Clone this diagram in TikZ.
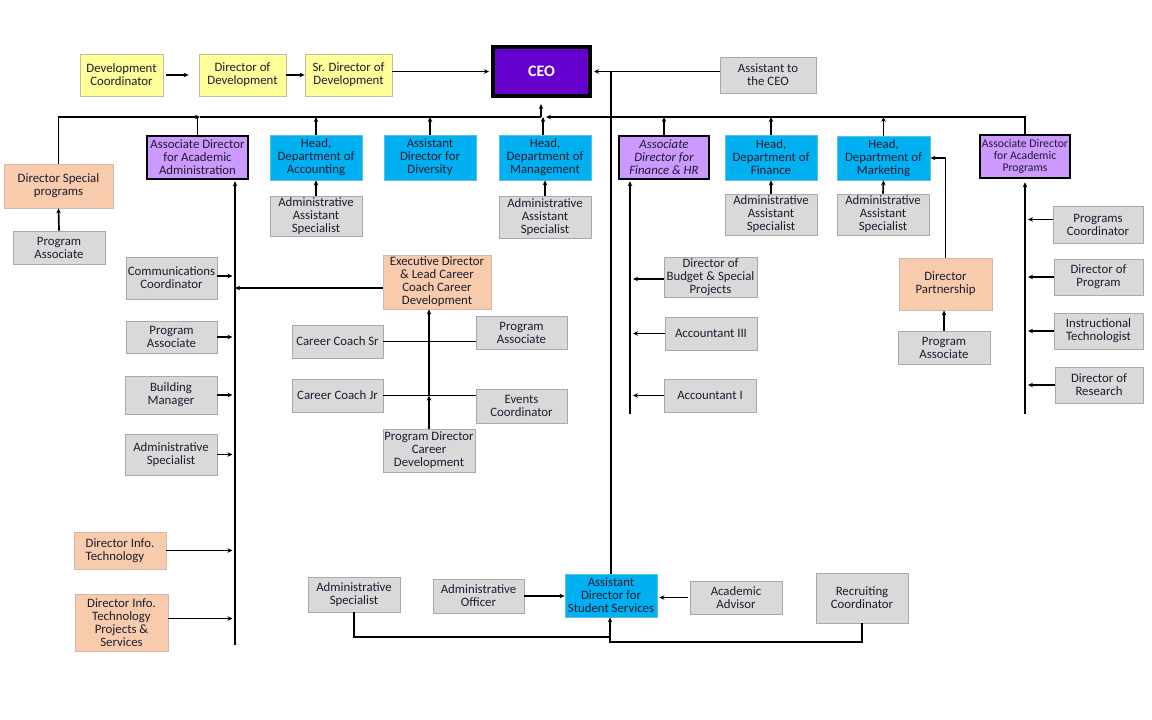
\documentclass[tikz,border=0pt]{standalone}
\usepackage{fontspec}
\setmainfont{Carlito}
\usetikzlibrary{arrows.meta}
\definecolor{txt}{HTML}{1C1C30}
\definecolor{grayF}{HTML}{D9D9D9}
\definecolor{grayD}{HTML}{A9A9A9}
\definecolor{yelF}{HTML}{FFFF99}
\definecolor{yelD}{HTML}{BFBFA0}
\definecolor{bluF}{HTML}{00B0F0}
\definecolor{bluD}{HTML}{5BC0E6}
\definecolor{peaF}{HTML}{F8CBAD}
\definecolor{peaD}{HTML}{D2B8A6}
\definecolor{lavF}{HTML}{CC99FF}
\definecolor{ceoF}{HTML}{6600CC}
\newcommand{\obox}[7]{\node[#2, minimum width={#5-#3}, minimum height={#6-#4}] (#1) at ({(#3+#5)/2},{(#4+#6)/2}) {#7};}
\tikzset{
 base/.style={rectangle, inner sep=1pt, align=center, font=\fontsize{12.8}{13}\selectfont, text=txt, line width=0.8pt},
 gbox/.style={base, fill=grayF, draw=grayD},
 ybox/.style={base, fill=yelF, draw=yelD},
 bbox/.style={base, fill=bluF, draw=bluD},
 pbox/.style={base, fill=peaF, draw=peaD},
 lbox/.style={base, fill=lavF, draw=black, line width=2.5pt},
 ceobox/.style={base, fill=ceoF, draw=black, line width=4pt, text=white, font=\fontsize{16}{18}\selectfont\bfseries},
 conn/.style={line width=1.7pt, draw=black},
 trunk/.style={line width=2.2pt, draw=black},
 arr/.style={conn, -{Stealth[length=5pt,width=4.5pt]}},
 tarr/.style={trunk, -{Stealth[length=5pt,width=4.5pt]}},
}
\begin{document}
\begin{tikzpicture}[x=1pt,y=-1pt]
\fill[white] (0,0) rectangle (1152,720);
\useasboundingbox (0,0) rectangle (1152,720);
% top row
\obox{devc}{ybox}{80}{54}{163}{96}{Development\\Coordinator}
\obox{dird}{ybox}{199}{54}{286}{96}{Director of\\Development}
\obox{srdir}{ybox}{305}{54}{392}{96}{Sr. Director of\\Development}
\obox{ceo}{ceobox}{493}{47}{590}{96}{CEO}
\obox{asst}{gbox}{720}{57}{816}{93}{Assistant to\\the CEO}
% second row
\obox{dsp}{pbox}{4}{164}{113}{208}{Director Special\\programs}
\obox{pa1}{gbox}{13}{231}{105}{264}{Program\\Associate}
\obox{aaa}{lbox}{147}{136}{248}{179}{Associate Director\\for Academic\\Administration}
\obox{acc}{bbox}{270}{135}{362}{180}{Head,\\Department of\\Accounting}
\obox{aas1}{gbox}{270}{196}{362}{236}{Administrative\\Assistant\\Specialist}
\obox{div}{bbox}{384}{135}{476}{180}{Assistant\\Director for\\Diversity}
\obox{mgmt}{bbox}{499}{135}{591}{180}{Head,\\Department of\\Management}
\obox{aas2}{gbox}{499}{196}{591}{238}{Administrative\\Assistant\\Specialist}
\obox{fhr}{lbox,font=\fontsize{12.8}{13}\selectfont\itshape}{619}{136}{709}{179}{Associate\\Director for\\Finance \& HR}
\obox{hfin}{bbox}{725}{135}{817}{180}{Head,\\Department of\\Finance}
\obox{aas3}{gbox}{725}{194}{817}{235}{Administrative\\Assistant\\Specialist}
\obox{hmkt}{bbox}{837}{136}{930}{180}{Head,\\Department of\\Marketing}
\obox{aas4}{gbox}{837}{194}{929}{235}{Administrative\\Assistant\\Specialist}
\obox{adp}{lbox,font=\fontsize{11.7}{12}\selectfont}{980}{135}{1070}{178}{Associate Director\\for Academic\\Programs}
% academic administration column
\obox{comm}{gbox}{126}{257}{217}{299}{Communications\\Coordinator}
\obox{pa4}{gbox}{126}{321}{217}{353}{Program\\Associate}
\obox{bm}{gbox}{125}{376}{217}{414}{Building\\Manager}
\obox{as1}{gbox}{125}{434}{217}{475}{Administrative\\Specialist}
\obox{dit}{pbox,align=left}{74}{532}{166}{569}{Director Info.\\Technology}
\obox{ditp}{pbox}{75}{594}{168}{651}{Director Info.\\Technology\\Projects \&\\Services}
% career development
\obox{exec}{pbox}{383}{255}{491}{309}{Executive Director\\\& Lead Career\\Coach Career\\Development}
\obox{ccs}{gbox}{292}{325}{383}{358}{Career Coach Sr}
\obox{pa2}{gbox}{476}{316}{567}{349}{Program\\Associate}
\obox{ccj}{gbox}{292}{379}{383}{412}{Career Coach Jr}
\obox{evc}{gbox}{476}{389}{567}{423}{Events\\Coordinator}
\obox{pdcd}{gbox}{383}{429}{475}{472}{Program Director\\Career\\Development}
% finance
\obox{dbsp}{gbox}{664}{257}{757}{297}{Director of\\Budget \& Special\\Projects}
\obox{acc3}{gbox}{665}{317}{757}{350}{Accountant III}
\obox{acc1}{gbox}{664}{379}{756}{412}{Accountant I}
% marketing
\obox{dpart}{pbox}{899}{258}{992}{310}{Director\\Partnership}
\obox{pa3}{gbox}{898}{331}{990}{364}{Program\\Associate}
% academic programs
\obox{pc}{gbox}{1053}{206}{1143}{243}{Programs\\Coordinator}
\obox{dprog}{gbox}{1054}{259}{1143}{295}{Director of\\Program}
\obox{itech}{gbox}{1054}{313}{1143}{349}{Instructional\\Technologist}
\obox{dres}{gbox}{1055}{367}{1143}{403}{Director of\\Research}
% student services
\obox{as2}{gbox}{308}{577}{400}{612}{Administrative\\Specialist}
\obox{ao}{gbox}{433}{579}{524}{613}{Administrative\\Officer}
\obox{ssvc}{bbox}{565}{574}{657}{617}{Assistant\\Director for\\Student Services}
\obox{aa}{gbox}{690}{581}{782}{614}{Academic\\Advisor}
\obox{rc}{gbox}{816}{573}{908}{623}{Recruiting\\Coordinator}
% coordinates
\coordinate (jA) at (200,117);
\coordinate (jL) at (541,117);
\coordinate (jR) at (546,117);
\coordinate (aaaEnd) at (235,645);
\coordinate (finEnd) at (630,414);
\coordinate (apEnd) at (1025,414);
\coordinate (sb1) at (610,637);
\coordinate (sb2) at (610,642);
% top row connectors
\draw[arr, shorten <=3pt, shorten >=10pt] (devc.east) -- (dird.west);
\draw[arr] (dird.east) -- (srdir.west);
\draw[arr, shorten >=2pt] (srdir.east |- ceo.west) -- (ceo.west);
\draw[arr, shorten >=2pt] (asst.west |- ceo.east) -- (ceo.east);
\draw[trunk] (ssvc.north) -- (ssvc.north |- ceo.east);
% buses
\draw[arr] (dsp.north) |- (jA);
\draw[conn] (jA) -- (jL);
\draw[arr, shorten >=6pt] (jL) -- (jL |- ceo.south);
\draw[arr] (adp.north) |- (jR);
\draw[conn] (aaa.north) -- (aaa.north |- jL);
\draw[arr] (acc.north) -- (acc.north |- jL);
\draw[arr] (div.north) -- (div.north |- jL);
\draw[arr] ([xshift=-2pt]mgmt.north) -- ([xshift=-2pt]mgmt.north |- jL);
\draw[arr] (fhr.north) -- (fhr.north |- jR);
\draw[arr] (hfin.north) -- (hfin.north |- jR);
\draw[arr] (hmkt.north) -- (hmkt.north |- jR);
% sub arrows
\draw[arr] (pa1.north) -- (dsp.south);
\draw[arr] (aas1.north) -- (acc.south);
\draw[arr] (aas2.north) -- (mgmt.south);
\draw[arr] (aas3.north) -- (hfin.south);
\draw[arr] (aas4.north) -- (hmkt.south);
% academic administration column
\draw[tarr, shorten >=1pt] (aaaEnd) -- (aaaEnd |- aaa.south);
\draw[arr, shorten >=2.5pt] ([yshift=2pt]comm.east) -- ([yshift=2pt]comm.east -| aaaEnd);
\draw[arr, shorten >=2.5pt] (pa4.east) -- (pa4.east -| aaaEnd);
\draw[arr, shorten >=2.5pt] (bm.east) -- (bm.east -| aaaEnd);
\draw[arr, shorten >=2.5pt] (as1.east) -- (as1.east -| aaaEnd);
\draw[arr, shorten >=2.5pt] (dit.east) -- (dit.east -| aaaEnd);
\draw[arr, shorten >=2.5pt] ([yshift=4pt]ditp.east) -- ([yshift=4pt]ditp.east -| aaaEnd);
\draw[arr] ([yshift=-6pt]exec.west) -- ([yshift=-6pt]exec.west -| aaaEnd);
% career development
\draw[conn] (ccs.east) -- (ccs.east -| pa2.west);
\draw[conn] (ccj.east) -- (ccj.east -| evc.west);
\draw[arr] (pdcd.north) -- (pdcd.north |- ccj.east);
\draw[tarr] (pdcd.north |- ccj.east) -- (pdcd.north |- exec.south);
% finance
\draw[tarr, shorten >=1pt] (finEnd) -- (finEnd |- fhr.south);
\draw[arr, shorten >=3pt] ([yshift=-2pt]dbsp.west) -- ([yshift=-2pt]dbsp.west -| finEnd);
\draw[arr, shorten >=3pt] (acc3.west) -- (acc3.west -| finEnd);
\draw[arr, shorten >=3pt] (acc1.west) -- (acc1.west -| finEnd);
% marketing
\draw[arr] (dpart.north) |- (hmkt.east);
\draw[arr] (pa3.north) -- (pa3.north |- dpart.south);
% academic programs
\draw[tarr, shorten >=3pt] (apEnd) -- (apEnd |- adp.south);
\draw[arr, shorten >=3pt] ([yshift=5pt]pc.west) -- ([yshift=5pt]pc.west -| apEnd);
\draw[arr, shorten >=3pt] (dprog.west) -- (dprog.west -| apEnd);
\draw[arr, shorten >=3pt] (itech.west) -- (itech.west -| apEnd);
\draw[arr, shorten >=3pt] (dres.west) -- (dres.west -| apEnd);
% student services
\draw[arr] (ao.east) -- (ao.east -| ssvc.west);
\draw[arr, shorten <=2pt, shorten >=2pt] (aa.west) -- (aa.west -| ssvc.east);
\draw[conn] (as2.south) |- (sb1);
\draw[arr] (rc.south) |- (sb2) -- (sb2 |- ssvc.south);
\end{tikzpicture}
\end{document}
